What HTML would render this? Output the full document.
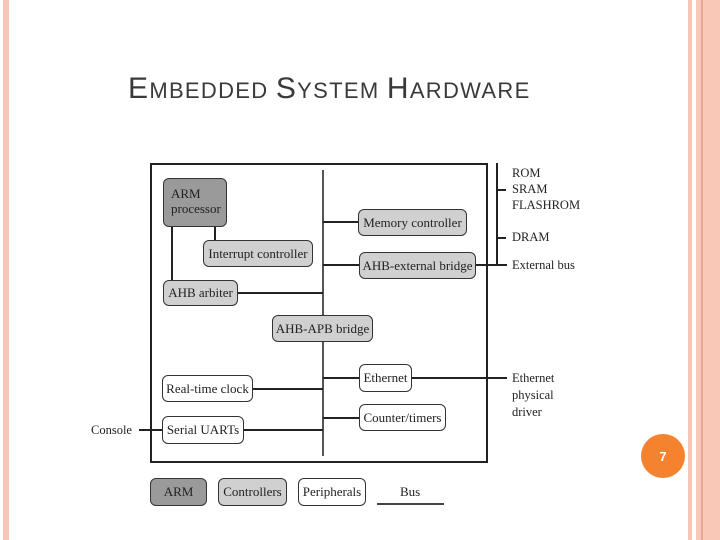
<!DOCTYPE html>
<html><head><style>
body{margin:0;width:720px;height:540px;background:#fff;position:relative;overflow:hidden;font-family:"Liberation Serif",serif;}
.ab{position:absolute}
.n{position:absolute;border:1.5px solid #333;border-radius:6px;box-sizing:border-box;font-size:13px;color:#222;display:flex;align-items:center;justify-content:center;background:#fff}
.c{background:#d0d0d0}
.h{position:absolute;background:#222;height:1.5px}
.v{position:absolute;background:#222;width:1.5px}
.t{position:absolute;font-size:12.5px;color:#222;line-height:16px}
</style></head><body>
<div class="ab" style="left:3px;top:0;width:6px;height:540px;background:#f7c6b4"></div>
<div class="ab" style="left:688px;top:0;width:4px;height:540px;background:#f7c6b4"></div>
<div class="ab" style="left:696px;top:0;width:24px;height:540px;background:#f9c8b6"></div>
<div class="ab" style="left:701px;top:0;width:2px;height:540px;background:#eaa890"></div>
<div class="ab" style="left:128px;top:72px;font-family:'Liberation Sans',sans-serif;color:#3a3a3a;font-size:22px;letter-spacing:1.3px;white-space:nowrap"><span style="font-size:30px">E</span>MBEDDED <span style="font-size:30px">S</span>YSTEM <span style="font-size:30px">H</span>ARDWARE</div>
<div class="ab" style="left:150px;top:163px;width:338px;height:300px;border:2.5px solid #222;box-sizing:border-box"></div>
<div class="v" style="left:322px;top:170px;height:286px;background:#555"></div>
<div class="v" style="left:214px;top:226px;height:14px"></div>
<div class="v" style="left:171px;top:226px;height:54px;width:2px"></div>
<div class="h" style="left:238px;top:292px;width:85px"></div>
<div class="h" style="left:323px;top:221px;width:36px"></div>
<div class="h" style="left:323px;top:264px;width:36px;height:2px"></div>
<div class="h" style="left:475px;top:264px;width:32px;height:2px"></div>
<div class="h" style="left:253px;top:388px;width:70px;height:2px"></div>
<div class="h" style="left:244px;top:429px;width:79px"></div>
<div class="h" style="left:323px;top:377px;width:36px"></div>
<div class="h" style="left:411px;top:377px;width:96px"></div>
<div class="h" style="left:323px;top:417px;width:36px"></div>
<div class="h" style="left:139px;top:429px;width:23px"></div>
<div class="v" style="left:496px;top:163px;height:102px"></div>
<div class="h" style="left:496px;top:189px;width:10px"></div>
<div class="h" style="left:496px;top:237px;width:10px"></div>
<div class="n" style="left:163px;top:178px;width:64px;height:49px;background:#9a9a9a;justify-content:flex-start;align-items:flex-start;padding:7px 0 0 7px;line-height:15px">ARM<br>processor</div>
<div class="n c" style="left:203px;top:240px;width:110px;height:27px">Interrupt controller</div>
<div class="n c" style="left:358px;top:209px;width:109px;height:27px">Memory controller</div>
<div class="n c" style="left:359px;top:252px;width:117px;height:27px">AHB-external bridge</div>
<div class="n c" style="left:163px;top:280px;width:75px;height:26px">AHB arbiter</div>
<div class="n c" style="left:272px;top:315px;width:101px;height:27px">AHB-APB bridge</div>
<div class="n" style="left:162px;top:375px;width:91px;height:27px">Real-time clock</div>
<div class="n" style="left:162px;top:416px;width:82px;height:28px">Serial UARTs</div>
<div class="n" style="left:359px;top:364px;width:53px;height:28px">Ethernet</div>
<div class="n" style="left:359px;top:404px;width:87px;height:27px">Counter/timers</div>
<div class="t" style="left:512px;top:165px">ROM<br>SRAM<br>FLASHROM</div>
<div class="t" style="left:512px;top:229px">DRAM</div>
<div class="t" style="left:512px;top:257px">External bus</div>
<div class="t" style="left:512px;top:370px;line-height:17px">Ethernet<br>physical<br>driver</div>
<div class="t" style="left:91px;top:422px">Console</div>
<div class="n" style="left:150px;top:478px;width:57px;height:28px;background:#9a9a9a">ARM</div>
<div class="n c" style="left:218px;top:478px;width:69px;height:28px">Controllers</div>
<div class="n" style="left:298px;top:478px;width:68px;height:28px">Peripherals</div>
<div class="t" style="left:400px;top:484px;font-size:13px">Bus</div>
<div class="h" style="left:377px;top:503px;width:67px;background:#444"></div>
<div class="ab" style="left:641px;top:434px;width:44px;height:44px;border-radius:50%;background:#f5822f;color:#fff;font-family:'Liberation Sans',sans-serif;font-size:13px;font-weight:bold;display:flex;align-items:center;justify-content:center">7</div>
</body></html>
